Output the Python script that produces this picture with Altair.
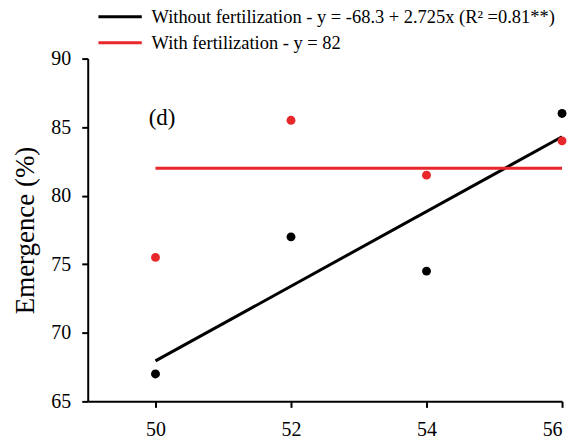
import altair as alt
import pandas as pd

# ---- data ----
x_vals = [50, 52, 54, 56]
without_fert = [67, 77, 74.5, 86]
with_fert = [75.5, 85.5, 81.5, 84]
series = [
    "Without fertilization - y = -68.3 + 2.725x (R² =0.81**)",
    "With fertilization - y = 82",
]
with_fit_const = [82, 82]
with_fit_x = [50, 56]
x_ticks = [50, 52, 54, 56]
y_ticks = [65, 70, 75, 80, 85, 90]
panel_label = ["(d)"]
panel_x = [49.9]
panel_y = [85.7]
colors = ["#000000", "#e8272b"]

FONT = "Liberation Serif"

pts = pd.DataFrame({
    "x": x_vals * 2,
    "y": without_fert + with_fert,
    "series": [series[0]] * len(x_vals) + [series[1]] * len(x_vals),
})
red_line = pd.DataFrame({"x": with_fit_x, "y": with_fit_const, "series": [series[1]] * 2})
label_df = pd.DataFrame({"x": panel_x, "y": panel_y, "t": panel_label})

xs = alt.Scale(domain=[49, 56], nice=False, zero=False)
ys = alt.Scale(domain=[65, 90], nice=False, zero=False)
cs = alt.Scale(domain=series, range=colors)

axis_common = dict(
    grid=False,
    domainColor="black",
    domainWidth=2,
    tickColor="black",
    tickWidth=2,
    tickSize=6,
    labelFont=FONT,
    labelFontSize=20,
    labelColor="black",
    titleFont=FONT,
    titleFontSize=27,
    titleFontWeight="normal",
    titleColor="black",
    format="d",
)

x_enc = alt.X("x:Q", scale=xs, axis=alt.Axis(values=x_ticks, title=None, labelPadding=12, **axis_common))
y_enc = alt.Y("y:Q", scale=ys, axis=alt.Axis(values=y_ticks, title="Emergence (%)", labelPadding=11, titlePadding=11, **axis_common))

legend = alt.Legend(
    title=None,
    orient="none",
    legendX=16.5,
    legendY=-58,
    symbolType="M-1.5,0H1.5",
    symbolSize=841,
    symbolStrokeWidth=3,
    labelFont=FONT,
    labelFontSize=18.5,
    labelColor="black",
    labelOffset=15.5,
    labelLimit=0,
    rowPadding=0,
    padding=0,
)

black_line = (
    alt.Chart(pts)
    .transform_filter(alt.datum.series == series[0])
    .transform_regression("x", "y")
    .transform_calculate(series=f"'{series[0]}'")
    .mark_line(strokeWidth=3)
    .encode(x=x_enc, y=y_enc, color=alt.Color("series:N", scale=cs, legend=legend))
)

red = (
    alt.Chart(red_line)
    .mark_line(strokeWidth=3)
    .encode(x=x_enc, y=y_enc, color=alt.Color("series:N", scale=cs, legend=legend))
)

points = (
    alt.Chart(pts)
    .mark_circle(size=80, opacity=1)
    .encode(x=x_enc, y=y_enc, color=alt.Color("series:N", scale=cs, legend=legend))
)

text = (
    alt.Chart(label_df)
    .mark_text(font=FONT, fontSize=23, align="left", baseline="middle", color="black")
    .encode(x=alt.X("x:Q", scale=xs), y=alt.Y("y:Q", scale=ys), text="t:N")
)

chart = (
    alt.layer(black_line, red, points, text)
    .properties(width=476, height=344, padding={"left": 4, "top": -8, "right": 5, "bottom": 0})
    .configure_view(stroke=None)
)

chart.save("out.html", embed_options={"renderer": "svg", "actions": False})
